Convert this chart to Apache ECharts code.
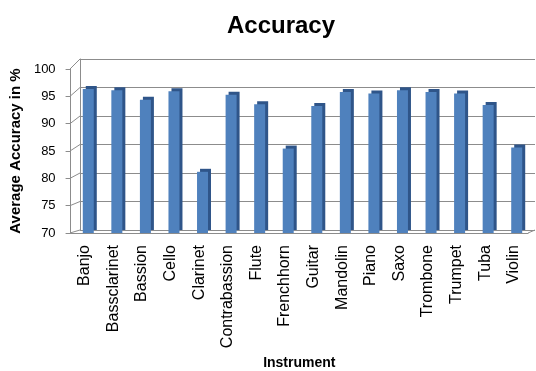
<!DOCTYPE html>
<html>
<head>
<meta charset="utf-8">
<script src="https://cdn.jsdelivr.net/npm/echarts@6/dist/echarts.min.js"></script>
<style>
  html, body { margin: 0; padding: 0; background: #fff; }
  #chart { width: 536px; height: 371px; }
</style>
</head>
<body>
<div id="chart"></div>
<script>
// data
var instruments = ['Banjo', 'Bassclarinet', 'Bassion', 'Cello', 'Clarinet', 'Contrabassion', 'Flute', 'Frenchhorn',
  'Guitar', 'Mandolin', 'Piano', 'Saxo', 'Trombone', 'Trumpet', 'Tuba', 'Violin'];
var accuracy = [95.4, 95.2, 93.5, 95.0, 80.8, 94.4, 92.7, 84.9, 92.4, 94.9, 94.6, 95.2, 94.9, 94.6, 92.6, 85.1];
var yMin = 70, yMax = 100, yStep = 5;

var font = 'Liberation Sans';
var gridGray = '#8c8c8c';

// three layers to fake the excel 3d box: front axes, back wall, bars in between
var front = { left: 70, right: 8, top: 69, bottom: 132 };
var back = { left: 80, right: 1, top: 59, bottom: 141 };
var mid = { left: 74, right: 5, top: 63, bottom: 138 };

var chart = echarts.init(document.getElementById('chart'));

chart.setOption({
  animation: false,
  backgroundColor: '#fff',
  title: {
    text: 'Accuracy',
    left: 276,
    top: 9,
    textAlign: 'center',
    textStyle: { fontFamily: font, fontSize: 24, fontWeight: 'bold', color: '#000' }
  },
  grid: [
    { left: front.left, right: front.right, top: front.top, bottom: front.bottom },
    { left: back.left, right: back.right, top: back.top, bottom: back.bottom },
    { left: mid.left, right: mid.right, top: mid.top, bottom: mid.bottom }
  ],
  xAxis: [
    {
      gridIndex: 0,
      type: 'category',
      data: instruments,
      name: 'Instrument',
      nameLocation: 'middle',
      nameGap: 123,
      nameTextStyle: { fontFamily: font, fontSize: 14, fontWeight: 'bold', color: '#000' },
      axisLine: { lineStyle: { color: gridGray } },
      axisTick: { length: 5, lineStyle: { color: gridGray } },
      axisLabel: { rotate: 90, margin: 12, fontFamily: font, fontSize: 16, color: '#000', interval: 0 }
    },
    { gridIndex: 1, type: 'category', data: instruments, show: false },
    { gridIndex: 2, type: 'category', data: instruments, show: false }
  ],
  yAxis: [
    {
      gridIndex: 0,
      type: 'value',
      min: yMin, max: yMax, interval: yStep,
      name: 'Average Accuracy in %',
      nameLocation: 'middle',
      nameGap: 39,
      nameTextStyle: { fontFamily: font, fontSize: 15, fontWeight: 'bold', color: '#000' },
      axisLine: { show: true, lineStyle: { color: gridGray } },
      axisTick: { show: true, length: 5, lineStyle: { color: gridGray } },
      axisLabel: { margin: 15, fontFamily: font, fontSize: 13, color: '#000' },
      splitLine: { show: false }
    },
    {
      gridIndex: 1,
      type: 'value',
      min: yMin, max: yMax, interval: yStep,
      axisLine: { show: true, lineStyle: { color: gridGray } },
      axisTick: { show: false },
      axisLabel: { show: false },
      splitLine: { show: true, lineStyle: { color: gridGray, width: 1 } }
    },
    { gridIndex: 2, type: 'value', min: yMin, max: yMax, show: false, splitLine: { show: false } }
  ],
  series: [
    {
      type: 'bar',
      xAxisIndex: 2,
      yAxisIndex: 2,
      data: accuracy,
      barWidth: 11,
      itemStyle: {
        color: '#4f81bd',
        shadowColor: '#2f5589',
        shadowOffsetX: 3,
        shadowOffsetY: -3,
        shadowBlur: 0
      }
    }
  ]
});

// diagonal edges joining the front axes to the back wall
var lines = [];
var W = chart.getWidth();
for (var v = yMin; v <= yMax; v += yStep) {
  var yf = chart.convertToPixel({ yAxisIndex: 0 }, v);
  var yb = chart.convertToPixel({ yAxisIndex: 1 }, v);
  lines.push({ x1: front.left, y1: yf, x2: back.left, y2: yb });
}
var yf0 = chart.convertToPixel({ yAxisIndex: 0 }, yMin);
var yb0 = chart.convertToPixel({ yAxisIndex: 1 }, yMin);
lines.push({ x1: W - front.right, y1: yf0, x2: W - back.right, y2: yb0 });

chart.setOption({
  graphic: lines.map(function (s) {
    return { type: 'line', shape: s, style: { stroke: gridGray, lineWidth: 1 }, z: 1 };
  })
});
</script>
</body>
</html>
